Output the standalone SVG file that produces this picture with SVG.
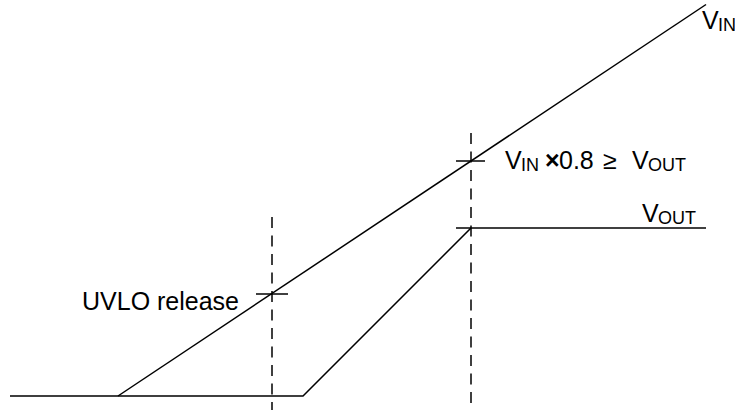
<svg xmlns="http://www.w3.org/2000/svg" width="735" height="414" viewBox="0 0 735 414">
<style>
.ln{stroke:#000;stroke-width:1.5;fill:none}
.dash{stroke:#000;stroke-width:1.5;fill:none;stroke-dasharray:11 7.5}
.t{font-family:"Liberation Sans",Arial,sans-serif;font-size:25px;fill:#000}
.s{font-size:18px}
.b{font-weight:bold}
</style>
<rect width="735" height="414" fill="#fff"/>
<g id="connectors">
<polyline class="ln" points="10,396 303,396 471,228"/>
<line class="ln" x1="456" y1="228" x2="706" y2="228"/>
<line class="ln" x1="118" y1="396" x2="706" y2="4.5"/>
<line class="dash" x1="272" y1="217" x2="272" y2="410"/>
<line class="dash" x1="471" y1="133" x2="471" y2="410"/>
<line class="ln" x1="256" y1="294" x2="288" y2="294"/>
<line class="ln" x1="456" y1="161" x2="485" y2="161"/>
</g>
<g id="label-vin">
<text class="t" x="702" y="28.5">V<tspan class="s" x="718" dy="2">IN</tspan></text>
</g>
<g id="label-condition">
<text class="t" y="168.5"><tspan x="505">V</tspan><tspan class="s" x="521" dy="2">IN</tspan><tspan class="b" x="545" dy="-2">×</tspan><tspan x="559">0.8</tspan><tspan x="603">≥</tspan><tspan x="632">V</tspan><tspan class="s" x="648" dy="2">OUT</tspan></text>
</g>
<g id="label-vout">
<text class="t" x="642" y="221.5">V<tspan class="s" x="658" dy="2">OUT</tspan></text>
</g>
<g id="label-uvlo">
<text class="t" x="82" y="309.5">UVLO release</text>
</g>
</svg>
